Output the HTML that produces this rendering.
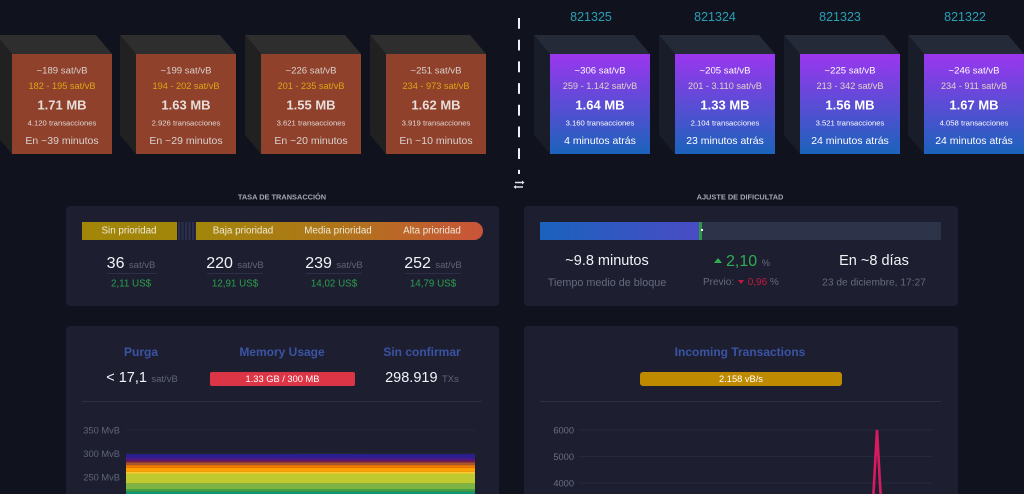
<!DOCTYPE html>
<html lang="es">
<head>
<meta charset="utf-8">
<title>Mempool dashboard</title>
<style>
html,body{margin:0;padding:0;background:#10131e;width:1024px;height:494px;overflow:hidden;}
#page{position:relative;width:1024px;height:494px;overflow:hidden;background:#10131e;font-family:"Liberation Sans",sans-serif;color:#fff;filter:blur(.35px);}
.abs{position:absolute;white-space:nowrap;}
.ctr{position:absolute;white-space:nowrap;transform:translate(-50%,-50%);}
.block{position:absolute;left:0;top:0;width:116px;height:120px;}
.block svg{position:absolute;left:0;top:0;}
.front{position:absolute;left:16px;top:19px;width:100px;height:100px;text-align:center;white-space:nowrap;}
.front div{position:absolute;left:0;right:0;transform:translateY(-50%);}
.fee{top:17px;font-size:9.6px;color:#d9d2ce;}
.range{top:32px;font-size:9.2px;color:#e0a516;}
.size{top:51px;font-size:13px;font-weight:bold;color:#e6dedb;}
.txs{top:69px;font-size:7.7px;color:#e0d8d5;}
.time{top:87px;font-size:10.5px;color:#d9d2ce;}
.mined .front{background:linear-gradient(#9b36ef,#1b63bb);}
.pending .front{background:#8f412b;}
.mined .fee,.mined .txs,.mined .time{color:#fff;}
.mined .range{color:#e6cfc8;}
.mined .size{color:#fff;}
.height{position:absolute;font-size:12.5px;color:#2a9fb5;transform:translateX(-50%);top:10px;}
.card{position:absolute;background:#1d1f31;border-radius:4px;}
.sec{font-size:7.4px;font-weight:bold;color:#a5a8b3;}
.num{font-size:16px;color:#f2f3f7;}
.unit{font-size:9.5px;color:#5f6477;}
.usd{font-size:9.8px;color:#2c9f4c;}
.pri{font-size:9.8px;color:#eee9d7;}
.tt{font-size:12px;font-weight:bold;color:#3a53a4;}
.grey{font-size:10.2px;color:#646a7c;}
.big{font-size:14.5px;color:#f2f3f7;}
.rule{position:absolute;height:1px;background:#2c2f45;}
</style>
</head>
<body>
<div id="page">

<svg width="0" height="0" style="position:absolute">
<defs>
<g id="faces-p"><polygon points="0,0 100,0 116,19 16,19" fill="#2e2e2e"/><polygon points="0,0 16,19 16,119 0,100" fill="#212121"/></g>
<g id="faces-m"><polygon points="0,0 100,0 116,19 16,19" fill="#252a38"/><polygon points="0,0 16,19 16,119 0,100" fill="#191d2a"/></g>
</defs>
</svg>

<div class="block pending" style="left:-4px;top:35px">
<svg width="117" height="120"><use href="#faces-p"/></svg>
<div class="front"><div class="fee">~189 sat/vB</div><div class="range">182 - 195 sat/vB</div><div class="size">1.71 MB</div><div class="txs">4.120 transacciones</div><div class="time">En ~39 minutos</div></div></div>
<div class="block pending" style="left:120px;top:35px">
<svg width="117" height="120"><use href="#faces-p"/></svg>
<div class="front"><div class="fee">~199 sat/vB</div><div class="range">194 - 202 sat/vB</div><div class="size">1.63 MB</div><div class="txs">2.926 transacciones</div><div class="time">En ~29 minutos</div></div></div>
<div class="block pending" style="left:245px;top:35px">
<svg width="117" height="120"><use href="#faces-p"/></svg>
<div class="front"><div class="fee">~226 sat/vB</div><div class="range">201 - 235 sat/vB</div><div class="size">1.55 MB</div><div class="txs">3.621 transacciones</div><div class="time">En ~20 minutos</div></div></div>
<div class="block pending" style="left:370px;top:35px">
<svg width="117" height="120"><use href="#faces-p"/></svg>
<div class="front"><div class="fee">~251 sat/vB</div><div class="range">234 - 973 sat/vB</div><div class="size">1.62 MB</div><div class="txs">3.919 transacciones</div><div class="time">En ~10 minutos</div></div></div>

<svg class="abs" style="left:510px;top:14px" width="20" height="185">
<line x1="9" y1="4" x2="9" y2="160" stroke="#eef0f4" stroke-width="2" stroke-dasharray="10.8 10.9"/>
<g stroke="#dfe1e6" stroke-width="1.5" fill="#dfe1e6">
<line x1="5" y1="168.5" x2="12" y2="168.5"/><polygon points="12,166.5 12,170.5 14.5,168.5" stroke="none"/>
<line x1="6" y1="173" x2="13" y2="173"/><polygon points="6,171 6,175 3.5,173" stroke="none"/>
</g>
</svg>

<div class="height" style="left:591px">821325</div>
<div class="height" style="left:715px">821324</div>
<div class="height" style="left:840px">821323</div>
<div class="height" style="left:965px">821322</div>

<div class="block mined" style="left:534px;top:35px">
<svg width="117" height="120"><use href="#faces-m"/></svg>
<div class="front"><div class="fee">~306 sat/vB</div><div class="range">259 - 1.142 sat/vB</div><div class="size">1.64 MB</div><div class="txs">3.160 transacciones</div><div class="time">4 minutos atrás</div></div></div>
<div class="block mined" style="left:659px;top:35px">
<svg width="117" height="120"><use href="#faces-m"/></svg>
<div class="front"><div class="fee">~205 sat/vB</div><div class="range">201 - 3.110 sat/vB</div><div class="size">1.33 MB</div><div class="txs">2.104 transacciones</div><div class="time">23 minutos atrás</div></div></div>
<div class="block mined" style="left:784px;top:35px">
<svg width="117" height="120"><use href="#faces-m"/></svg>
<div class="front"><div class="fee">~225 sat/vB</div><div class="range">213 - 342 sat/vB</div><div class="size">1.56 MB</div><div class="txs">3.521 transacciones</div><div class="time">24 minutos atrás</div></div></div>
<div class="block mined" style="left:908px;top:35px">
<svg width="116" height="120"><use href="#faces-m"/></svg>
<div class="front"><div class="fee">~246 sat/vB</div><div class="range">234 - 911 sat/vB</div><div class="size">1.67 MB</div><div class="txs">4.058 transacciones</div><div class="time">24 minutos atrás</div></div></div>

<div class="ctr sec" style="left:282px;top:197px">TASA DE TRANSACCIÓN</div>
<div class="ctr sec" style="left:740px;top:197px">AJUSTE DE DIFICULTAD</div>

<div class="card" style="left:66px;top:206px;width:433px;height:100px"></div>
<div class="abs" style="left:82px;top:222px;width:95px;height:18px;background:#a2860a"></div>
<div class="abs" style="left:178px;top:222px;width:18px;height:18px;background:repeating-linear-gradient(90deg,#2b3050 0 2px,#1d1f31 2px 3.5px)"></div>
<div class="abs" style="left:196px;top:222px;width:287px;height:18px;border-radius:0 9px 9px 0;background:linear-gradient(90deg,#a2860a,#b0751a 50%,#c9543a)"></div>
<div class="ctr pri" style="left:129px;top:231px">Sin prioridad</div>
<div class="ctr pri" style="left:243px;top:231px">Baja prioridad</div>
<div class="ctr pri" style="left:338px;top:231px">Media prioridad</div>
<div class="ctr pri" style="left:432px;top:231px">Alta prioridad</div>

<div class="ctr" style="left:131px;top:264px"><span class="num">36</span> <span class="unit">sat/vB</span></div>
<div class="ctr" style="left:235px;top:264px"><span class="num">220</span> <span class="unit">sat/vB</span></div>
<div class="ctr" style="left:334px;top:264px"><span class="num">239</span> <span class="unit">sat/vB</span></div>
<div class="ctr" style="left:433px;top:264px"><span class="num">252</span> <span class="unit">sat/vB</span></div>
<div class="rule" style="left:107px;top:273px;width:50px"></div>
<div class="rule" style="left:207px;top:273px;width:56px"></div>
<div class="rule" style="left:306px;top:273px;width:56px"></div>
<div class="rule" style="left:405px;top:273px;width:56px"></div>
<div class="ctr usd" style="left:131px;top:283.5px">2,11 US$</div>
<div class="ctr usd" style="left:235px;top:283.5px">12,91 US$</div>
<div class="ctr usd" style="left:334px;top:283.5px">14,02 US$</div>
<div class="ctr usd" style="left:433px;top:283.5px">14,79 US$</div>

<div class="card" style="left:524px;top:206px;width:434px;height:100px"></div>
<div class="abs" style="left:540px;top:222px;width:401px;height:18px;background:#2d3348"></div>
<div class="abs" style="left:540px;top:222px;width:159px;height:18px;background:linear-gradient(90deg,#1a62bd,#4a4cc5)"></div>
<div class="abs" style="left:699px;top:222px;width:3px;height:18px;background:#2a9a45"></div>
<div class="abs" style="left:701px;top:229px;width:2px;height:2px;background:#fff"></div>

<div class="ctr big" style="left:607px;top:261px">~9.8 minutos</div>
<div class="ctr grey" style="left:607px;top:282.5px;font-size:10.8px">Tiempo medio de bloque</div>
<div class="abs" style="left:714px;top:253px;height:18px;line-height:18px"><svg width="8" height="6" style="vertical-align:2px;margin-right:4px"><polygon points="0,5 4,0 8,5" fill="#2fae50"/></svg><span style="font-size:16px;color:#2fae50">2,10</span> <span style="font-size:9.5px;color:#646a7c">%</span></div>
<div class="abs" style="left:703px;top:276.5px;font-size:10px;color:#646a7c">Previo: <svg width="6" height="4" style="vertical-align:1px;margin:0 1px"><polygon points="0,0 6,0 3,4" fill="#c2183f"/></svg> <span style="color:#c2183f">0,96</span> %</div>
<div class="ctr big" style="left:874px;top:261px">En ~8 días</div>
<div class="ctr grey" style="left:874px;top:282.5px">23 de diciembre, 17:27</div>

<div class="card" style="left:66px;top:326px;width:433px;height:168px;border-radius:4px 4px 0 0"></div>
<div class="ctr tt" style="left:141px;top:352px">Purga</div>
<div class="ctr tt" style="left:282px;top:352px">Memory Usage</div>
<div class="ctr tt" style="left:422px;top:352px">Sin confirmar</div>
<div class="ctr" style="left:142px;top:378px"><span class="big">&lt; 17,1</span> <span class="unit">sat/vB</span></div>
<div class="abs" style="left:210px;top:372px;width:145px;height:14px;background:#dc3545;border-radius:2px;font-size:9.3px;line-height:14px;text-align:center;color:#fff">1.33 GB / 300 MB</div>
<div class="ctr" style="left:422px;top:378px"><span class="big">298.919</span> <span class="unit">TXs</span></div>
<div class="rule" style="left:82px;top:401px;width:400px"></div>

<div class="card" style="left:524px;top:326px;width:434px;height:168px;border-radius:4px 4px 0 0"></div>
<div class="ctr tt" style="left:740px;top:352px">Incoming Transactions</div>
<div class="abs" style="left:640px;top:372px;width:202px;height:14px;background:#bd8a00;border-radius:3px;font-size:9.3px;line-height:14px;text-align:center;color:#fff">2.158 vB/s</div>
<div class="rule" style="left:540px;top:401px;width:401px"></div>

<svg id="chart-left" class="abs" style="left:0;top:0" width="1024" height="494"></svg>
<svg id="chart-right" class="abs" style="left:0;top:0" width="1024" height="494"></svg>
</div>

<script>
// Mempool stacked area (MvB per fee band, bottom to top)
var mempoolTimes = ['t1','t2','t3','t4','t5','t6','t7','t8'];
var mempoolTicks = [250, 300, 350];
var bandTeal   = [212,212,212,212,212,212,212,212];
var bandTeal2  = [6,6,6,6,6,6,6,6];
var bandGreen  = [6,6,6,6,6,6,6,6];
var bandGreen2 = [12,12,12,12,12,12,12,12];
var bandLime   = [21,21,21,21,21,21,21,21];
var bandYellow = [4,4,4,4,4,4,4,4];
var bandAmber  = [8,8,8,8,8,8,8,8];
var bandOrange = [6,6,6,6,6,6,6,6];
var bandBrown  = [6,6,6,6,6,6,6,6];
var bandMaroon = [4,4,4,4,4,4,4,4];
var bandPurple = [6,6,6,6,6,6,6,6];
var bandBlue   = [7.5,7.5,7.5,7.5,7.8,7.5,7.5,7.5];

// Incoming transactions line (vB/s)
var incomingTicks = [4000, 5000, 6000];
var incomingValues = [2100,2200,1900,2000,2300,2100,1800,2000,2200,2400,2000,1900,2100,2300,2000,1800,2100,2200,1900,2000,2300,2100,2000,1900,2200,2100,2000,2300,1900,2100,2000,2200,2400,2100,1900,2000,2200,2100,1800,2000,2300,2100,1900,2000,2200,2100,2000,1900,2100,1950,6000,1950,2100,2000,2200,1900,2100,2000,2200,2100];

var NS = 'http://www.w3.org/2000/svg';
function mk(tag, attrs, parent) {
  var e = document.createElementNS(NS, tag);
  for (var k in attrs) e.setAttribute(k, attrs[k]);
  parent.appendChild(e);
  return e;
}

(function () {
  var svg = document.getElementById('chart-left');
  var X0 = 126, X1 = 475;
  function x(i) { return X0 + (X1 - X0) * i / (mempoolTimes.length - 1); }
  function y(v) { return 430 + (350 - v) * 23.4 / 50; }
  mempoolTicks.forEach(function (t) {
    var g = mk('line', {x1: X0, x2: X1, y1: y(t), y2: y(t), stroke: '#24273a', 'stroke-width': 1}, svg);
    
    
    var l = mk('text', {x: 120, y: y(t) + 3.5, 'text-anchor': 'end', 'font-size': 9.3, fill: '#5f6477', 'font-family': '"Liberation Sans",sans-serif'}, svg);
    l.textContent = t + ' MvB';
    
    
  });
  var bands = [
    [bandTeal, '#0f9670'], [bandTeal2, '#0f9670'], [bandGreen, '#43a047'],
    [bandGreen2, '#7cb342'], [bandLime, '#bfca30'], [bandYellow, '#fdc82e'],
    [bandAmber, '#ffa000'], [bandOrange, '#f57c00'], [bandBrown, '#a8532a'],
    [bandMaroon, '#7a1a4a'], [bandPurple, '#4a1a86'], [bandBlue, '#2a1f90']
  ];
  var base = mempoolTimes.map(function () { return 0; });
  bands.forEach(function (b, n) {
    var bottom = n === 0 ? mempoolTimes.map(function () { return 212; }) : base;
    var top = base.map(function (v, i) { return v + b[0][i]; });
    var pts = [];
    top.forEach(function (v, i) { pts.push(x(i) + ',' + y(v)); });
    for (var i = bottom.length - 1; i >= 0; i--) pts.push(x(i) + ',' + y(bottom[i]));
    var p = mk('polygon', {points: pts.join(' '), fill: b[1]}, svg);
    
    
    base = top;
  });
})();

(function () {
  var svg = document.getElementById('chart-right');
  var X0 = 577, X1 = 931;
  function x(i) { return X0 + (X1 - X0) * i / (incomingValues.length - 1); }
  function y(v) { return 430 + (6000 - v) * 26.5 / 1000; }
  incomingTicks.forEach(function (t) {
    var g = mk('line', {x1: 578, x2: 932, y1: y(t), y2: y(t), stroke: '#25283b', 'stroke-width': 1}, svg);
    
    
    var l = mk('text', {x: 574, y: y(t) + 3.5, 'text-anchor': 'end', 'font-size': 9.3, fill: '#6a6f82', 'font-family': '"Liberation Sans",sans-serif'}, svg);
    l.textContent = t;
    
    
  });
  var line = mk('polyline', {
    points: incomingValues.map(function (v, i) { return x(i) + ',' + y(v); }).join(' '),
    fill: 'none', stroke: '#d81b60', 'stroke-width': 2.6, 'stroke-linejoin': 'miter'
  }, svg);
  
  
})();
</script>
</body>
</html>
